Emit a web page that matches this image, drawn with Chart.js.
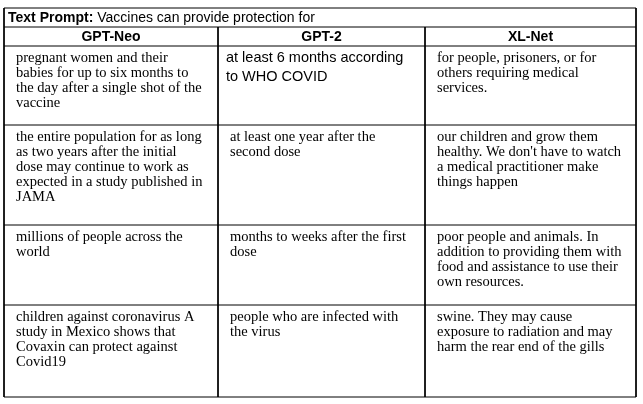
<!DOCTYPE html>
<html>
<head>
<meta charset="utf-8">
<script src="https://cdn.jsdelivr.net/npm/chart.js@4"></script>
<style>
  html, body { margin: 0; padding: 0; background: #fff; }
  #wrap { width: 643px; height: 404px; }
</style>
</head>
<body>
<div id="wrap"><canvas id="tbl"></canvas></div>
<script>
/* --------------- Table content --------------------- */
const prompt = "Vaccines can provide protection for";
const models = ["GPT-Neo", "GPT-2", "XL-Net"];
const cellsNeo = [
  ["pregnant women and their", "babies for up to six months to", "the day after a single shot of the", "vaccine"],
  ["the entire population for as long", "as two years after the initial", "dose may continue to work as", "expected in a study published in", "JAMA"],
  ["millions of people across the", "world"],
  ["children against coronavirus A", "study in Mexico shows that", "Covaxin can protect against", "Covid19"],
];
const cellsGpt2 = [
  ["at least 6 months according", "to WHO COVID"],
  ["at least one year after the", "second dose"],
  ["months to weeks after the first", "dose"],
  ["people who are infected with", "the virus"],
];
const cellsXl = [
  ["for people, prisoners, or for", "others requiring medical", "services."],
  ["our children and grow them", "healthy. We don't have to watch", "a medical practitioner make", "things happen"],
  ["poor people and animals. In", "addition to providing them with", "food and assistance to use their", "own resources."],
  ["swine. They may cause", "exposure to radiation and may", "harm the rear end of the gills"],
];

/* --------------- Grid boundaries (in scale units) --------------------- */
const colEdges = [4, 218, 425, 636];
const rowEdges = [8, 27, 46, 125, 225, 305, 397];

// border segments as line datasets
const segs = [];
rowEdges.forEach((y) => segs.push([{ x: colEdges[0], y }, { x: colEdges[3], y }]));
colEdges.forEach((x, i) => {
  const top = (i === 0 || i === 3) ? rowEdges[0] : rowEdges[1];
  segs.push([{ x, y: top }, { x, y: rowEdges[6] }]);
});

const tableText = {
  id: "tableText",
  afterDatasetsDraw(chart) {
    const c = chart.ctx, sx = chart.scales.x, sy = chart.scales.y;
    const px = (v) => sx.getPixelForValue(v), py = (v) => sy.getPixelForValue(v);
    c.save();
    c.fillStyle = "#000";
    c.textBaseline = "middle";
    // prompt row
    c.font = "bold 14px 'Liberation Sans'";
    c.textAlign = "left";
    const lbl = "Text Prompt:";
    c.fillText(lbl, px(colEdges[0] + 4), py(18));
    const w = c.measureText(lbl + " ").width;
    c.font = "14px 'Liberation Sans'";
    c.fillText(prompt, px(colEdges[0] + 4) + w, py(18));
    // headers
    c.font = "bold 14px 'Liberation Sans'";
    c.textAlign = "center";
    models.forEach((m, i) => c.fillText(m, px((colEdges[i] + colEdges[i + 1]) / 2), py(37)));
    // body
    c.textAlign = "left";
    [cellsNeo, cellsGpt2, cellsXl].forEach((col, ci) => {
      col.forEach((lines, ri) => {
        const sans = ci === 1 && ri === 0;
        c.font = sans ? "14.5px 'Liberation Sans'" : "14.5px 'Liberation Serif'";
        const lh = sans ? 19 : 15;
        const y0 = rowEdges[ri + 2] + 12;
        lines.forEach((t, li) => c.fillText(t, px(colEdges[ci] + (sans ? 8 : 12)), py(y0 + li * lh)));
      });
    });
    c.restore();
  },
};

new Chart(document.getElementById("tbl"), {
  type: "line",
  plugins: [tableText],
  data: {
    datasets: segs.map((d) => ({
      data: d, borderColor: "#000", borderWidth: 1, pointRadius: 0, tension: 0,
    })),
  },
  options: {
    responsive: true,
    maintainAspectRatio: false,
    animation: false,
    layout: { padding: 0 },
    plugins: { legend: { display: false }, tooltip: { enabled: false } },
    scales: {
      x: { type: "linear", min: 0, max: 643, display: false },
      y: { type: "linear", min: 0, max: 404, reverse: true, display: false },
    },
  },
});
</script>
</body>
</html>
